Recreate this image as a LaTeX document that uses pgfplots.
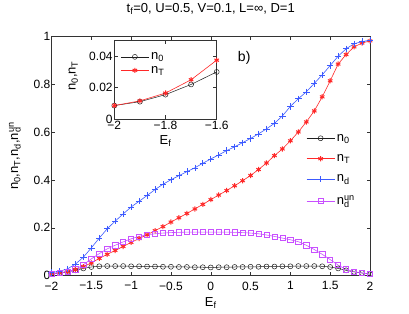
\documentclass[border=0pt]{standalone}
\usepackage{pgfplots}
\pgfplotsset{compat=1.18}
\usepackage{pgfplotstable}
\usepackage{fontspec}
\setmainfont{Liberation Sans}
\definecolor{cblue}{RGB}{60,90,255}
\definecolor{cred}{RGB}{255,40,40}
\definecolor{cmag}{RGB}{200,80,255}
\definecolor{cblk}{RGB}{30,30,30}

\pgfplotstableread{
x n0 nT nd nun
-2.0 0.008 0.0085 0.013 0.008
-1.9 0.011 0.0115 0.018 0.011
-1.8 0.0155 0.0165 0.028 0.016
-1.7 0.022 0.025 0.048 0.026
-1.6 0.030 0.0375 0.077 0.045
-1.5 0.036 0.053 0.116 0.070
-1.4 0.039 0.072 0.157 0.092
-1.3 0.040 0.089 0.196 0.112
-1.2 0.040 0.105 0.228 0.127
-1.1 0.040 0.122 0.258 0.141
-1.0 0.039 0.139 0.287 0.154
-0.9 0.039 0.155 0.311 0.164
-0.8 0.038 0.171 0.335 0.171
-0.7 0.038 0.188 0.360 0.175
-0.6 0.037 0.205 0.382 0.178
-0.5 0.037 0.224 0.401 0.180
-0.4 0.036 0.242 0.418 0.181
-0.3 0.036 0.260 0.435 0.182
-0.2 0.035 0.279 0.451 0.182
-0.1 0.035 0.298 0.470 0.182
0.0 0.034 0.318 0.488 0.182
0.1 0.035 0.337 0.505 0.182
0.2 0.035 0.356 0.523 0.182
0.3 0.036 0.376 0.539 0.181
0.4 0.036 0.397 0.556 0.180
0.5 0.037 0.419 0.574 0.178
0.6 0.037 0.444 0.593 0.175
0.7 0.038 0.471 0.614 0.170
0.8 0.038 0.502 0.637 0.164
0.9 0.039 0.530 0.668 0.157
1.0 0.039 0.564 0.708 0.150
1.1 0.040 0.601 0.740 0.142
1.2 0.040 0.643 0.769 0.127
1.3 0.040 0.689 0.804 0.109
1.4 0.039 0.748 0.840 0.089
1.5 0.036 0.815 0.879 0.067
1.6 0.030 0.885 0.918 0.044
1.7 0.022 0.925 0.949 0.026
1.8 0.0155 0.957 0.970 0.017
1.9 0.011 0.973 0.979 0.011
2.0 0.006 0.982 0.985 0.006
}\maintab

\pgfplotstableread{
x n0 nT
-2.0 0.0085 0.0085
-1.9 0.011 0.0115
-1.8 0.0155 0.0165
-1.7 0.022 0.025
-1.6 0.030 0.0375
}\insettab

\begin{document}
\begin{tikzpicture}[font=\fontsize{12}{14}\selectfont]
\pgfplotsset{
  mstyle/.style={
    scale only axis,
    tick align=inside,
    major tick length=3.5pt,
    scaled ticks=false,
    axis line style={black!80, line width=0.5pt},
    every tick/.style={black!80, line width=0.5pt},
    legend cell align=left,
    legend style={draw=none, fill=none, font=\fontsize{13}{15}\selectfont},
    legend image code/.code={\draw[mark repeat=2,mark phase=2] plot coordinates {(0pt,0pt) (14pt,0pt) (28pt,0pt)};},
  }
}
\begin{axis}[mstyle,
  name=main,
  at={(0,0)}, anchor=south west,
  width=318.5pt, height=239pt,
  xmin=-2, xmax=2, ymin=0, ymax=1,
  xtick={-2,-1.5,-1,-0.5,0,0.5,1,1.5,2},
  xticklabels={−2,−1.5,−1,−0.5,0,0.5,1,1.5,2},
  ytick={0,0.2,0.4,0.6,0.8,1},
  yticklabels={0,0.2,0.4,0.6,0.8,1},
  xticklabel style={yshift=-2.5pt},
  yticklabel style={inner sep=1pt},
  xlabel={E\textsubscript{f}},
  xlabel style={at={(axis description cs:0.5,-0.115)}, anchor=center, font=\fontsize{13}{15}\selectfont},
  ylabel={n\textsubscript{0},n\textsubscript{T},n\textsubscript{d},n\rlap{\textsubscript{d}}\textsuperscript{un}},
  ylabel style={at={(axis description cs:-0.115,0.5)}, anchor=center, font=\fontsize{13}{15}\selectfont},
  title={t\textsubscript{f}=0, U=0.5, V=0.1, L=∞, D=1},
  title style={at={(axis description cs:0.5,1.09)}, anchor=center, font=\fontsize{13}{15}\selectfont},
  legend style={at={(rel axis cs:0.79,0.61)}, anchor=north west, row sep=8pt},
]
\addplot[cblk, line width=0.5pt, mark=o, mark size=2.5pt] table[x=x,y=n0] {\maintab};
\addlegendentry{n\textsubscript{0}}
\addplot[cred, line width=0.6pt, mark=asterisk, mark size=2.6pt, mark options={line width=1pt}] table[x=x,y=nT] {\maintab};
\addlegendentry{n\textsubscript{T}}
\addplot[cblue, line width=0.6pt, mark=+, mark size=3.2pt] table[x=x,y=nd] {\maintab};
\addlegendentry{n\textsubscript{d}}
\addplot[cmag, line width=0.6pt, mark=square, mark size=2.6pt] table[x=x,y=nun] {\maintab};
\addlegendentry{n\rlap{\textsubscript{d}}\textsuperscript{un}}
\node[anchor=center, font=\fontsize{14}{16}\selectfont] at (axis cs:0.42,0.91) {b)};
\end{axis}

\begin{axis}[mstyle,
  at={(62.8pt,156.7pt)}, anchor=south west,
  width=102.4pt, height=78.3pt,
  axis background/.style={fill=white},
  xmin=-2, xmax=-1.6, ymin=0, ymax=0.05,
  xtick={-2,-1.8,-1.6},
  xticklabels={−2,−1.8,−1.6},
  ytick={0,0.02,0.04},
  yticklabels={0,0.02,0.04},
  xticklabel style={inner sep=0.5pt, yshift=-1.5pt},
  yticklabel style={inner sep=1.5pt},
  xlabel={E\textsubscript{f}},
  xlabel style={at={(axis description cs:0.5,-0.28)}, anchor=center, font=\fontsize{13}{15}\selectfont},
  ylabel={n\textsubscript{0},n\textsubscript{T}},
  ylabel style={at={(axis description cs:-0.4,0.55)}, anchor=center, font=\fontsize{13}{15}\selectfont},
  legend style={at={(rel axis cs:0.03,0.9)}, anchor=north west, row sep=1pt},
]
\addplot[cblk, line width=0.5pt, mark=o, mark size=2.5pt] table[x=x,y=n0] {\insettab};
\addlegendentry{n\textsubscript{0}}
\addplot[cred, line width=0.6pt, mark=asterisk, mark size=2.6pt, mark options={line width=1pt}] table[x=x,y=nT] {\insettab};
\addlegendentry{n\textsubscript{T}}
\end{axis}
\path[use as bounding box] (-51.5pt,-38pt) rectangle (357.5pt,270pt);
\end{tikzpicture}
\end{document}
